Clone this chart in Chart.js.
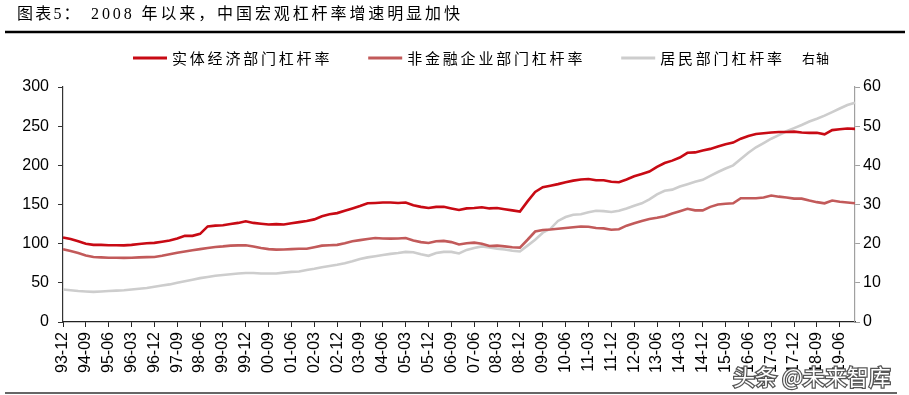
<!DOCTYPE html>
<html>
<head>
<meta charset="utf-8">
<script src="https://cdn.jsdelivr.net/npm/chart.js@4"></script>
<style>
  body { margin: 0; background: #fff; }
  #wrap { width: 909px; height: 395px; }
</style>
</head>
<body>
<div id="wrap"><canvas id="myChart" width="909" height="395"></canvas></div>
<script>
// quarterly categories
const quarters = [
  "93-12",
  "94-03","94-06","94-09","94-12","95-03","95-06","95-09","95-12",
  "96-03","96-06","96-09","96-12","97-03","97-06","97-09","97-12",
  "98-03","98-06","98-09","98-12","99-03","99-06","99-09","99-12",
  "00-03","00-06","00-09","00-12","01-03","01-06","01-09","01-12",
  "02-03","02-06","02-09","02-12","03-03","03-06","03-09","03-12",
  "04-03","04-06","04-09","04-12","05-03","05-06","05-09","05-12",
  "06-03","06-06","06-09","06-12","07-03","07-06","07-09","07-12",
  "08-03","08-06","08-09","08-12","09-03","09-06","09-09","09-12",
  "10-03","10-06","10-09","10-12","11-03","11-06","11-09","11-12",
  "12-03","12-06","12-09","12-12","13-03","13-06","13-09","13-12",
  "14-03","14-06","14-09","14-12","15-03","15-06","15-09","15-12",
  "16-03","16-06","16-09","16-12","17-03","17-06","17-09","17-12",
  "18-03","18-06","18-09","18-12","19-03","19-06","19-09","19-12"
];

// 实体经济部门杠杆率 (left axis)
const realEconomy = [
  108,106,103,100,98.5,
  98.5,98,98,97.8, 98.5,99.5,100.5,101, 102.5,104,106.5,110, 110,112.5,122,123,
  123.5,125,126.5,128.5, 126.5,125.5,124.5,125, 124.5,126,127.5,129, 131,135,137.5,139,
  142,145,148,151.5, 152,152.5,152.5,152, 152.5,149,147,145.5, 147,147,145,143,
  145,145.5,146.5,145, 145.5,144,142.5,141, 154,166,172,174, 176,178.5,180.5,182,
  182.5,181,181,179, 178.5,182,186,189, 192,198,203,206, 210,216,216.5,219,
  221,224,227,229, 234,237.5,240,241, 242,242.5,242.5,243, 242,241.5,241.5,239.5,
  245,246,247,246.5
];

// 非金融企业部门杠杆率 (left axis)
const corporate = [
  93,90.5,88,85,83,
  82.5,82,82,81.8, 82,82.5,82.8,83, 84.5,86.5,88.5,90, 91.5,93,94.5,95.8,
  96.5,97.5,97.8,98, 96.5,94.5,93,92.4, 92.5,93,93.5,93.6, 95.5,97.5,98,98.5,
  100.5,103,104.5,106, 107.2,106.5,106.4,106.5, 107.2,104,102,100.8, 103,103.5,102,99,
  100.5,101.3,100,97, 97.5,96.5,95.5,95, 105,115.5,117.5,118, 119,120,121,122,
  121.5,120,119.5,117.8, 118.5,123,126,129, 131.5,133,135,138.5, 141.5,144.6,142.5,142.5,
  147,150,151,151.5, 158,158,158,159, 161.5,160,159,157.5, 157.5,155,153,151.5,
  155,153.5,152.5,151.5
];

// 居民部门杠杆率 (right axis)
const household = [
  8.3,8.1,7.9,7.8,7.7,
  7.8,7.9,8.0,8.1, 8.3,8.5,8.7,9.0, 9.3,9.6,10.0,10.4, 10.8,11.2,11.5,11.8,
  12.0,12.2,12.4,12.5, 12.5,12.4,12.4,12.4, 12.6,12.8,12.9,13.3, 13.6,14.0,14.3,14.6,
  15.0,15.5,16.1,16.5, 16.8,17.1,17.4,17.6, 17.9,17.8,17.3,16.9, 17.6,17.9,17.9,17.5,
  18.4,18.9,19.3,19.0, 18.7,18.5,18.2,18.0, 19.5,21.0,22.8,23.8, 25.8,26.8,27.4,27.5,
  28.0,28.4,28.3,28.1, 28.4,29.0,29.7,30.3, 31.3,32.6,33.5,33.8, 34.6,35.2,35.8,36.3,
  37.3,38.3,39.2,40.0, 41.6,43.2,44.6,45.7, 46.8,47.7,48.7,49.5, 50.3,51.2,51.9,52.7,
  53.6,54.5,55.4,56.0
];

const seriesNames = ["实体经济部门杠杆率", "非金融企业部门杠杆率", "居民部门杠杆率"];
const leftTicks = [0, 50, 100, 150, 200, 250, 300];
const rightTicks = [0, 10, 20, 30, 40, 50, 60];

const titleLead = "图表5：";
const titleText = "2008 年以来，中国宏观杠杆率增速明显加快";
const cjk = "'Noto Sans CJK SC', sans-serif";

// title, rules, legend and watermark
const decorPlugin = {
  id: "decor",
  beforeDraw(chart) {
    const ctx = chart.ctx;
    ctx.save();
    ctx.fillStyle = "#fff";
    ctx.fillRect(0, 0, chart.width, chart.height);
    ctx.restore();
  },
  afterDraw(chart) {
    const ctx = chart.ctx;
    ctx.save();

    // title
    ctx.fillStyle = "#000";
    ctx.font = "16px 'Liberation Serif', " + cjk;
    ctx.letterSpacing = "2.2px";
    ctx.textBaseline = "middle";
    ctx.textAlign = "left";
    ctx.fillText(titleLead, 17, 15);
    ctx.letterSpacing = "2.9px";
    ctx.fillText(titleText, 91, 15);
    ctx.letterSpacing = "0px";

    ctx.strokeStyle = "#000";
    ctx.lineWidth = 2.5;
    ctx.beginPath();
    ctx.moveTo(5, 32);
    ctx.lineTo(905, 32);
    ctx.stroke();

    ctx.lineWidth = 1.5;
    ctx.strokeStyle = "#333";
    ctx.beginPath();
    ctx.moveTo(5, 393);
    ctx.lineTo(897, 393);
    ctx.stroke();

    // legend
    let x = 133;
    const y = 58;
    ctx.font = "15px " + cjk;
    ctx.letterSpacing = "2.8px";
    chart.data.datasets.forEach((ds) => {
      ctx.strokeStyle = ds.borderColor;
      ctx.lineWidth = 3;
      ctx.beginPath();
      ctx.moveTo(x, y);
      ctx.lineTo(x + 34, y);
      ctx.stroke();
      ctx.fillStyle = "#000";
      ctx.fillText(ds.label, x + 39, y);
      x += 39 + ctx.measureText(ds.label).width + 36;
    });
    ctx.letterSpacing = "1px";
    ctx.font = "13px " + cjk;
    ctx.fillText("右轴", 802, y);
    ctx.letterSpacing = "0px";

    // watermark
    ctx.font = "22px " + cjk;
    ctx.lineWidth = 2.5;
    ctx.strokeStyle = "#555";
    ctx.fillStyle = "#fff";
    ctx.strokeText("头条 @未来智库", 733, 377);
    ctx.fillText("头条 @未来智库", 733, 377);

    ctx.restore();
  }
};

const ctx = document.getElementById("myChart").getContext("2d");
new Chart(ctx, {
  type: "line",
  data: {
    labels: quarters,
    datasets: [
      {
        label: seriesNames[0],
        data: realEconomy,
        borderColor: "#C80A14",
        backgroundColor: "#C80A14",
        borderWidth: 2.6,
        yAxisID: "y"
      },
      {
        label: seriesNames[1],
        data: corporate,
        borderColor: "#C25A5A",
        backgroundColor: "#C25A5A",
        borderWidth: 2.6,
        yAxisID: "y"
      },
      {
        label: seriesNames[2],
        data: household,
        borderColor: "#CDCDCD",
        backgroundColor: "#CDCDCD",
        borderWidth: 2.6,
        yAxisID: "y1"
      }
    ]
  },
  options: {
    responsive: false,
    animation: false,
    layout: { padding: { top: 87, left: 0, right: 0, bottom: 0 } },
    elements: { point: { radius: 0 }, line: { tension: 0 } },
    plugins: {
      legend: { display: false },
      tooltip: { enabled: false }
    },
    scales: {
      x: {
        offset: false,
        border: { color: "#222", width: 1.2 },
        grid: { drawOnChartArea: false, tickLength: 5, color: "#222" },
        ticks: {
          autoSkip: false,
          minRotation: 90,
          maxRotation: 90,
          padding: 5,
          color: "#000",
          font: { family: "'Liberation Sans', Arial", size: 16 },
          callback: (val, i) => (i % 3 === 0 ? quarters[i] : null)
        },
        afterFit: (scale) => { scale.height = 73; }
      },
      y: {
        position: "left",
        min: 0,
        max: 300,
        afterBuildTicks: (scale) => { scale.ticks = leftTicks.map(v => ({ value: v })); },
        border: { color: "#333", width: 1.2 },
        grid: { drawOnChartArea: false, tickLength: 5, color: "#333" },
        ticks: {
          padding: 9,
          color: "#000",
          font: { family: "'Liberation Sans', Arial", size: 16 }
        },
        afterFit: (scale) => { scale.width = 63; }
      },
      y1: {
        position: "right",
        min: 0,
        max: 60,
        afterBuildTicks: (scale) => { scale.ticks = rightTicks.map(v => ({ value: v })); },
        border: { color: "#A0A0A0", width: 1.2 },
        grid: { drawOnChartArea: false, tickLength: 5, color: "#A0A0A0" },
        ticks: {
          padding: 3,
          color: "#000",
          font: { family: "'Liberation Sans', Arial", size: 16 }
        },
        afterFit: (scale) => { scale.width = 54; }
      }
    }
  },
  plugins: [decorPlugin]
});
</script>
</body>
</html>
